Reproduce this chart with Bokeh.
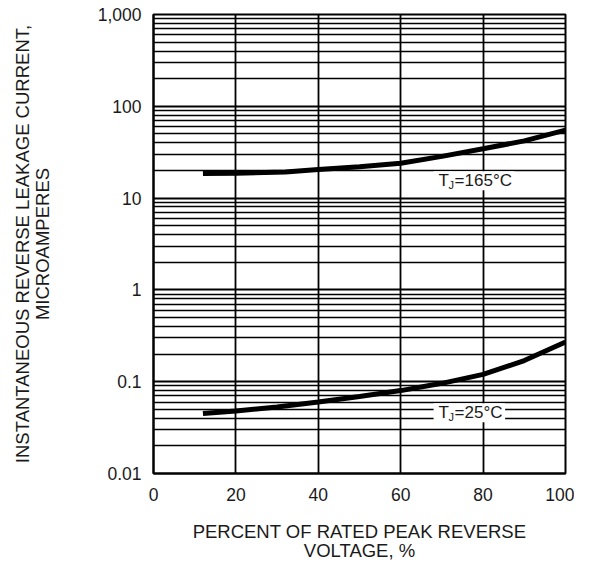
from bokeh.plotting import figure
from bokeh.models import FixedTicker, Label
from bokeh.embed import file_html
from bokeh.resources import INLINE

# Data
x_165 = [12, 20, 32, 40, 50, 60, 70, 80, 90, 100]
y_165 = [18.5, 18.7, 19.2, 20.5, 22.0, 24.0, 28.5, 34.5, 42.0, 55.0]
x_25 = [12, 20, 30, 40, 50, 60, 70, 80, 90, 100]
y_25 = [0.045, 0.048, 0.053, 0.060, 0.069, 0.080, 0.096, 0.120, 0.170, 0.270]

y_ticks = [0.01, 0.1, 1, 10, 100, 1000]
y_tick_labels = ["0.01", "0.1", "1", "10", "100", "1,000"]
x_ticks = [0, 20, 40, 60, 80, 100]

FONT = "Liberation Sans"
TXT = "#1a1a1a"

p = figure(width=574, height=564, x_range=(0, 100), y_range=(0.01, 1000),
           y_axis_type="log", output_backend="svg", toolbar_location=None,
           min_border_left=153, min_border_right=9, min_border_top=14,
           min_border_bottom=87)

p.outline_line_color = "black"
p.outline_line_width = 2

minor = [m * d for d in [0.01, 0.1, 1, 10, 100] for m in range(2, 10)]
p.yaxis.ticker = FixedTicker(ticks=y_ticks, minor_ticks=minor)
p.yaxis.major_label_overrides = {t: l for t, l in zip(y_ticks, y_tick_labels)}
p.xaxis.ticker = FixedTicker(ticks=x_ticks)

for ax in (p.xaxis[0], p.yaxis[0]):
    ax.axis_line_color = "black"
    ax.axis_line_width = 2
    ax.major_tick_line_color = None
    ax.minor_tick_line_color = None
    ax.major_label_text_font = FONT
    ax.major_label_text_font_size = "17.5px"
    ax.major_label_text_color = TXT
    ax.axis_label_text_font = FONT
    ax.axis_label_text_font_size = "18.5px"
    ax.axis_label_text_font_style = "normal"
    ax.axis_label_text_color = TXT
    ax.axis_label_text_line_height = 0.95

p.yaxis.major_label_standoff = 6
p.xaxis.major_label_standoff = 8
p.xaxis.axis_label = "PERCENT OF RATED PEAK REVERSE\nVOLTAGE, %"
p.yaxis.axis_label = "INSTANTANEOUS REVERSE LEAKAGE CURRENT,\nMICROAMPERES"
p.xaxis.axis_label_standoff = 17
p.yaxis.axis_label_standoff = 42
p.xaxis.axis_label_text_align = "center"
p.yaxis.axis_label_text_align = "center"

p.xgrid.grid_line_color = "black"
p.xgrid.grid_line_width = 1.8
p.ygrid.grid_line_color = "black"
p.ygrid.grid_line_width = 1.8
p.ygrid.minor_grid_line_color = "black"
p.ygrid.minor_grid_line_width = 1.5

p.line(x_165, y_165, line_color="black", line_width=5)
p.line(x_25, y_25, line_color="black", line_width=5)

def tj_label(x, y, rest):
    # white box behind
    p.add_layout(Label(x=x, y=y, text="TJ" + rest + " ", text_font=FONT,
                       text_font_size="17px", text_color="white",
                       background_fill_color="white", x_offset=-5,
                       text_align="left", text_baseline="middle"))
    p.add_layout(Label(x=x, y=y, text="T", text_font=FONT, text_font_size="17px",
                       text_color=TXT, text_align="left", text_baseline="middle"))
    p.add_layout(Label(x=x, y=y, text="J", text_font=FONT, text_font_size="11px",
                       text_color=TXT, x_offset=10, y_offset=-4,
                       text_align="left", text_baseline="middle"))
    p.add_layout(Label(x=x, y=y, text=rest, text_font=FONT, text_font_size="17px",
                       text_color=TXT, x_offset=16,
                       text_align="left", text_baseline="middle"))

tj_label(69.2, 15.5, "=165°C")
tj_label(69.2, 0.046, "=25°C")

open("out.html", "w").write(file_html(p, INLINE))
